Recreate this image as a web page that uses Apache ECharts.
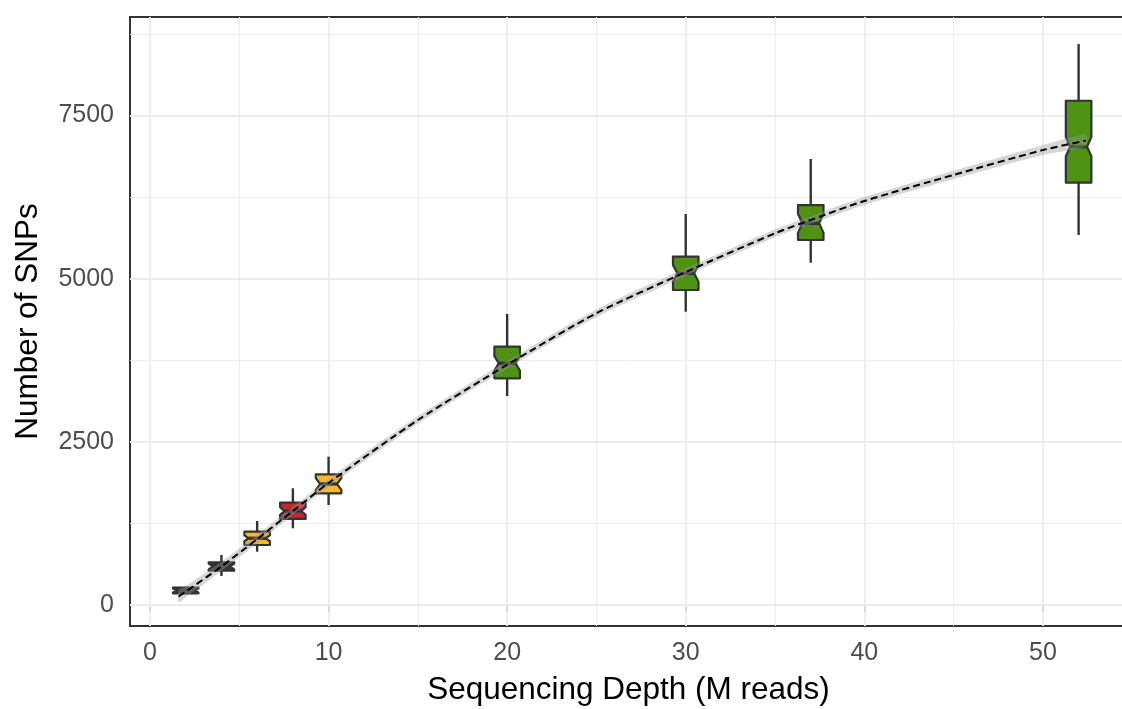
<!DOCTYPE html>
<html>
<head>
<meta charset="utf-8">
<title>SNP saturation by sequencing depth</title>
<script src="https://cdn.jsdelivr.net/npm/echarts@6/dist/echarts.min.js"></script>
<style>
  html, body { margin: 0; padding: 0; background: #ffffff; overflow: hidden; }
  #chart { width: 1122px; height: 709px; }
</style>
</head>
<body>
<div id="chart"></div>
<script>
// Sequencing depth groups (M reads) and SNP count summaries per group
const depth       = [2, 4, 6, 8, 10, 20, 30, 37, 52];
const whiskerLow  = [165, 444, 817, 1175, 1532, 3202, 4494, 5245, 5669];
const quartile1   = [179, 526, 919, 1318, 1711, 3473, 4826, 5592, 6470];
const medianSNPs  = [222, 590, 1022, 1440, 1854, 3703, 5082, 5848, 7022];
const quartile3   = [265, 654, 1123, 1567, 2002, 3958, 5337, 6128, 7726];
const whiskerHigh = [280, 766, 1287, 1788, 2272, 4458, 5991, 6833, 8595];
const notchHalf   = [30, 45, 45, 60, 90, 110, 128, 146, 147];

// Smoothed trend (loess fit) and its standard-error half-width
const fitDepth = [1.6, 2, 4, 6, 8, 10, 15, 20, 25, 30, 35, 37.5, 40, 45, 50, 52.4];
const fitSNPs  = [130, 204, 590, 1010, 1440, 1870, 2834, 3680, 4470, 5100, 5695, 5949, 6190, 6590, 6970, 7115];
const fitSE    = [90, 85, 70, 65, 60, 60, 58, 58, 58, 58, 58, 58, 60, 64, 75, 88];

// Axis breaks
const xTicks = [0, 10, 20, 30, 40, 50];
const yTicks = [0, 2500, 5000, 7500];
const xMinor = [5, 15, 25, 35, 45];
const yMinor = [1250, 3750, 6250, 8750];

// Styling
const boxFill = ['#333333', '#333333', '#f6b929', '#c4282e', '#f6b929', '#4f9214', '#4f9214', '#4f9214', '#4f9214'];
const EDGE = '#333333';
const BOX_WIDTH = 1.43;      // in x-axis units
const NOTCH_INDENT = 0.17;   // fraction of box width on each side
const FONT = '"Liberation Sans", Arial, Helvetica, sans-serif';

const boxData = depth.map((d, i) => [d, whiskerLow[i], quartile1[i], medianSNPs[i], quartile3[i], whiskerHigh[i], notchHalf[i]]);
const fitData = fitDepth.map((d, i) => [d, fitSNPs[i]]);

function renderBox(params, api) {
  const x = api.value(0);
  const yOf = v => api.coord([x, v])[1];
  const xc = api.coord([x, 0])[0];
  const w = api.size([BOX_WIDTH, 0])[0];
  const xl = xc - w / 2, xr = xc + w / 2, ind = w * NOTCH_INDENT;
  const med = api.value(3), nh = api.value(6);
  const yLo = yOf(api.value(1)), yQ1 = yOf(api.value(2)), yMed = yOf(med);
  const yQ3 = yOf(api.value(4)), yHi = yOf(api.value(5));
  const yNU = yOf(med + nh), yNL = yOf(med - nh);
  const whisker = { stroke: EDGE, lineWidth: 2.4 };
  return {
    type: 'group',
    children: [
      { type: 'line', shape: { x1: xc, y1: yQ3, x2: xc, y2: yHi }, style: whisker },
      { type: 'line', shape: { x1: xc, y1: yQ1, x2: xc, y2: yLo }, style: whisker },
      {
        type: 'polygon',
        shape: { points: [[xl, yQ3], [xr, yQ3], [xr, yNU], [xr - ind, yMed], [xr, yNL], [xr, yQ1],
                          [xl, yQ1], [xl, yNL], [xl + ind, yMed], [xl, yNU]] },
        style: { fill: boxFill[params.dataIndex], stroke: EDGE, lineWidth: 2.2, lineJoin: 'round' }
      },
      { type: 'line', shape: { x1: xl + ind, y1: yMed, x2: xr - ind, y2: yMed }, style: { stroke: EDGE, lineWidth: 3.4 } }
    ]
  };
}

function renderRibbon(params, api) {
  const upper = fitDepth.map((d, i) => api.coord([d, fitSNPs[i] + fitSE[i]]));
  const lower = fitDepth.map((d, i) => api.coord([d, fitSNPs[i] - fitSE[i]])).reverse();
  return {
    type: 'polygon',
    shape: { points: upper.concat(lower), smooth: 0.25 },
    style: { fill: 'rgba(153,153,153,0.4)', stroke: null }
  };
}

const gridLines = []
  .concat(xTicks.map(v => ({ xAxis: v, lineStyle: { color: '#ebebeb', width: 1.8, type: 'solid' } })))
  .concat(yTicks.map(v => ({ yAxis: v, lineStyle: { color: '#ebebeb', width: 1.8, type: 'solid' } })))
  .concat(xMinor.map(v => ({ xAxis: v, lineStyle: { color: '#ebebeb', width: 0.9, type: 'solid' } })))
  .concat(yMinor.map(v => ({ yAxis: v, lineStyle: { color: '#ebebeb', width: 0.9, type: 'solid' } })));

const chart = echarts.init(document.getElementById('chart'), null, { renderer: 'canvas' });
chart.setOption({
  backgroundColor: '#ffffff',
  animation: false,
  grid: {
    left: 130, top: 17, right: -5, bottom: 83,
    containLabel: false, outerBoundsMode: 'none',
    show: true, borderColor: '#333333', borderWidth: 2, backgroundColor: 'transparent'
  },
  xAxis: {
    type: 'value',
    min: -1.12, max: 54.71,
    name: 'Sequencing Depth (M reads)',
    nameLocation: 'middle', nameGap: 48,
    nameTextStyle: { fontFamily: FONT, fontSize: 31.5, color: '#000000' },
    axisLine: { show: false },
    axisTick: { show: true, customValues: xTicks, length: 7, lineStyle: { color: EDGE, width: 2 } },
    axisLabel: { customValues: xTicks, margin: 15, fontFamily: FONT, fontSize: 25, color: '#4d4d4d' },
    splitLine: { show: false }
  },
  yAxis: {
    type: 'value',
    min: -322, max: 9009,
    name: 'Number of SNPs',
    nameLocation: 'middle', nameGap: 86, nameRotate: 90,
    nameTextStyle: { fontFamily: FONT, fontSize: 31.5, color: '#000000' },
    axisLine: { show: false },
    axisTick: { show: true, customValues: yTicks, length: 7, lineStyle: { color: EDGE, width: 2 } },
    axisLabel: {
      customValues: yTicks, margin: 16, fontFamily: FONT, fontSize: 25, color: '#4d4d4d',
      formatter: v => String(v)
    },
    splitLine: { show: false }
  },
  series: [
    {
      name: 'grid',
      type: 'line',
      data: [],
      z: 1,
      silent: true,
      markLine: { z: 1, silent: true, symbol: ['none', 'none'], label: { show: false }, animation: false, data: gridLines }
    },
    {
      name: 'SNPs',
      type: 'custom',
      renderItem: renderBox,
      data: boxData,
      encode: { x: 0, y: [1, 2, 3, 4, 5] },
      z: 10,
      clip: true
    },
    {
      name: 'se',
      type: 'custom',
      renderItem: renderRibbon,
      data: [fitData[0]],
      encode: { x: 0, y: 1 },
      z: 11,
      silent: true,
      clip: true
    },
    {
      name: 'fit',
      type: 'line',
      data: fitData,
      smooth: 0.25,
      symbol: 'none',
      z: 12,
      silent: true,
      lineStyle: { color: '#000000', width: 2, type: [7, 4] }
    }
  ]
});
</script>
</body>
</html>
